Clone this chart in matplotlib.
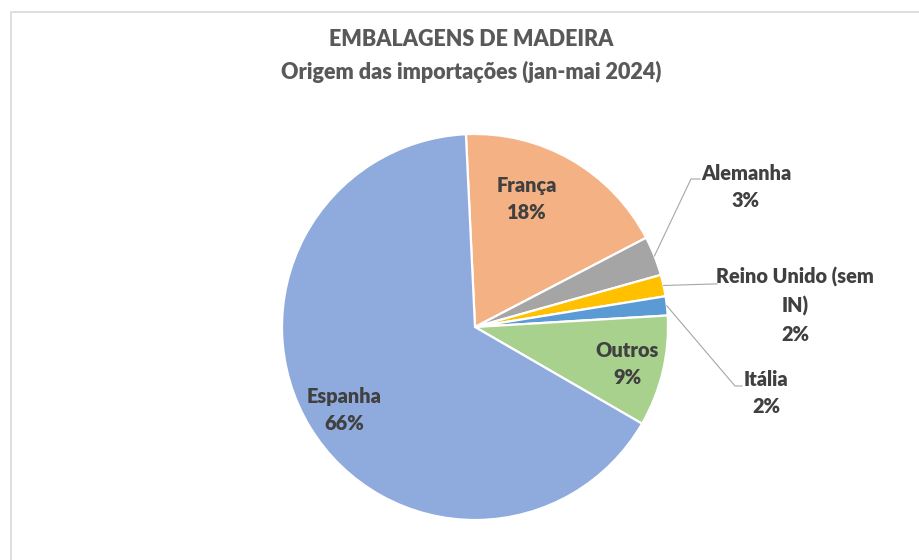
import numpy as np
import matplotlib
matplotlib.use("Agg")
import matplotlib.pyplot as plt
from matplotlib.patches import Rectangle

# ---- data ----
categories = ["França", "Alemanha", "Reino Unido (sem\nIN)", "Itália", "Outros", "Espanha"]
shares = [18.1, 3.3, 1.8, 1.6, 9.3, 65.9]
colors = ["#F4B183", "#A5A5A5", "#FFC000", "#5B9BD5", "#A9D18E", "#8FAADC"]
title_lines = ["EMBALAGENS DE MADEIRA", "Origem das importações (jan-mai 2024)"]

# ---- layout (pixel coordinates, y measured from top) ----
W, H = 919, 560
cx, cy, R = 475, 327, 193
start_offset = 2.7  # degrees counter-clockwise from top
label_pos = {
    "França": (527, 199),
    "Alemanha": (746, 187),
    "Reino Unido (sem\nIN)": (795, 305),
    "Itália": (766, 393),
    "Outros": (627, 364),
    "Espanha": (344, 410),
}
elbows = {
    "Alemanha": [(691, 179), (700, 179)],
    "Reino Unido (sem\nIN)": [(712, 284), (717, 284)],
    "Itália": [(735, 386), (742, 386)],
}

plt.rcParams['font.family'] = ['Lato', 'DejaVu Sans']
fig = plt.figure(figsize=(W / 100, H / 100), dpi=100)
ax = fig.add_axes([0, 0, 1, 1])

# chart frame
ax.add_patch(Rectangle((11, -10), W + 20, H - 12 + 10, fill=False,
                       edgecolor="#D9D9D9", lw=1.2))

wedges, _ = ax.pie(shares, colors=colors, center=(cx, H - cy), radius=R,
                   startangle=90 + start_offset, counterclock=False,
                   wedgeprops=dict(edgecolor="white", linewidth=1.6),
                   frame=True)
ax.set_xlim(0, W)
ax.set_ylim(0, H)
ax.set_aspect('equal')
ax.axis('off')

txt_col = "#404040"
total = sum(shares)
for w, cat, val in zip(wedges, categories, shares):
    lx, ly = label_pos[cat]
    ax.text(lx, H - ly, f"{cat}\n{round(val / total * 100):.0f}%", ha='center', va='center',
            fontsize=14.3, fontweight='heavy', color=txt_col, linespacing=1.55)
    if cat in elbows:
        mid = np.deg2rad((w.theta1 + w.theta2) / 2)
        px = cx + R * np.cos(mid)
        py = (H - cy) + R * np.sin(mid)
        xs = [px] + [e[0] for e in elbows[cat]]
        ys = [py] + [H - e[1] for e in elbows[cat]]
        ax.plot(xs, ys, color="#A6A6A6", lw=0.8)

ax.text(W / 2 + 12, H - 40, title_lines[0], ha='center', va='center',
        fontsize=15.5, fontweight='heavy', color="#595959")
ax.text(W / 2 + 12, H - 72, title_lines[1], ha='center', va='center',
        fontsize=15.5, fontweight='heavy', color="#595959")

fig.savefig("out.png", dpi=100)
